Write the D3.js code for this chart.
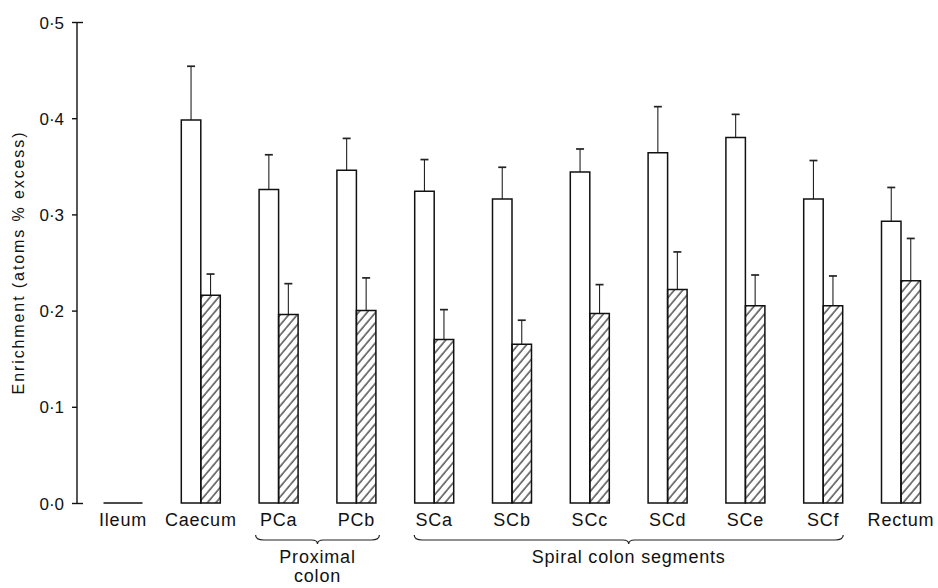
<!DOCTYPE html>
<html>
<head>
<meta charset="utf-8">
<script src="https://cdn.jsdelivr.net/npm/d3@7"></script>
<style>
  body { margin: 0; background: #fff; }
  text { font-family: "Liberation Sans", Arial, sans-serif; fill: #111; }
</style>
</head>
<body>
<div id="chart-area"></div>
<script>
// Data
const categories = ["Ileum", "Caecum", "PCa", "PCb", "SCa", "SCb", "SCc", "SCd", "SCe", "SCf", "Rectum"]
const openMean   = [0, 0.398, 0.326, 0.346, 0.324, 0.316, 0.344, 0.364, 0.380, 0.316, 0.293]
const openErr    = [0, 0.454, 0.362, 0.379, 0.357, 0.349, 0.368, 0.412, 0.404, 0.356, 0.328]
const hatchMean  = [0, 0.216, 0.196, 0.200, 0.170, 0.165, 0.197, 0.222, 0.205, 0.205, 0.231]
const hatchErr   = [0, 0.238, 0.228, 0.234, 0.201, 0.190, 0.227, 0.261, 0.237, 0.236, 0.275]
const yTicks = [0, 0.1, 0.2, 0.3, 0.4, 0.5]
const groups = [
    {label: ["Proximal", "colon"], from: "PCa", to: "PCb", pad: 23},
    {label: ["Spiral colon segments"], from: "SCa", to: "SCf", pad: 20}
]

const chartAreaWidth = 938
const chartAreaHeight = 588
const barW = 19.5

const svg = d3.select("#chart-area").append("svg")
    .attr("width", chartAreaWidth)
    .attr("height", chartAreaHeight);

// hatch pattern for the second series
const defs = svg.append("defs");
defs.append("pattern")
    .attr("id", "hatch")
    .attr("patternUnits", "userSpaceOnUse")
    .attr("width", 6.5)
    .attr("height", 6.5)
    .attr("patternTransform", "rotate(40)")
    .append("line")
    .attr("x1", 1).attr("y1", -1)
    .attr("x2", 1).attr("y2", 8)
    .attr("stroke", "#111")
    .attr("stroke-width", 1.1);

const x = d3.scalePoint()
    .domain(categories)
    .range([123, 901]);

const y = d3.scaleLinear()
    .domain([0, 0.5])
    .range([503, 22]);

const fmt = d => d3.format(".1f")(d).replace(".", "\u00b7");

// Y axis
const yAxis = svg.append("g")
    .attr("transform", "translate(77,0)")
    .call(d3.axisLeft(y).tickValues(yTicks).tickSize(5).tickFormat(fmt));
yAxis.select(".domain")
    .attr("d", `M0,${y(0.5)}V${y(0)}`)
    .attr("stroke", "#111")
    .attr("stroke-width", 1.4);
yAxis.selectAll(".tick line").attr("stroke", "#111").attr("stroke-width", 1.4);
yAxis.selectAll(".tick text")
    .attr("x", -13)
    .attr("dy", "0.36em")
    .style("font-size", "17px")
    .style("font-family", "'Liberation Sans', Arial, sans-serif")
    .attr("fill", "#111");

// short ticks pointing inward at the two ends
yAxis.selectAll(".tick")
    .filter(d => d === 0 || d === 0.5)
    .append("line")
    .attr("x1", 0).attr("x2", 6)
    .attr("stroke", "#111")
    .attr("stroke-width", 1.4);

// Y label
svg.append("text")
    .attr("transform", `translate(24, ${(y(0) + y(0.5)) / 2}) rotate(-90)`)
    .attr("text-anchor", "middle")
    .style("font-size", "16px")
    .style("letter-spacing", "1.9px")
    .text("Enrichment (atoms % excess)");

// bars
const rows = categories.map((c, i) => ({c, o: openMean[i], oe: openErr[i], h: hatchMean[i], he: hatchErr[i]}));

const bars = svg.append("g")
    .selectAll("g")
    .data(rows)
    .join("g");

// error bars first so bar tops sit over them
function errorBar(sel, xOff, val, err) {
    sel.filter(d => d[err] > 0)
        .append("line")
        .attr("x1", d => x(d.c) + xOff).attr("x2", d => x(d.c) + xOff)
        .attr("y1", d => y(d[val])).attr("y2", d => y(d[err]))
        .attr("stroke", "#222").attr("stroke-width", 1.1);
    sel.filter(d => d[err] > 0)
        .append("line")
        .attr("x1", d => x(d.c) + xOff - 4).attr("x2", d => x(d.c) + xOff + 4)
        .attr("y1", d => y(d[err])).attr("y2", d => y(d[err]))
        .attr("stroke", "#222").attr("stroke-width", 1.7);
}
errorBar(bars, -barW / 2, "o", "oe");
errorBar(bars, barW / 2, "h", "he");

// bars as paths so a zero value still shows as a line
const barPath = (x0, v) => `M${x0},${y(0)}V${y(v)}H${x0 + barW}V${y(0)}Z`;

bars.append("path")
    .attr("d", d => barPath(x(d.c) - barW, d.o))
    .attr("fill", "#fff")
    .attr("stroke", "#111")
    .attr("stroke-width", 1.5);

bars.append("path")
    .attr("d", d => barPath(x(d.c), d.h))
    .attr("fill", "url(#hatch)")
    .attr("stroke", "#111")
    .attr("stroke-width", 1.5);

// category labels
svg.append("g")
    .selectAll("text")
    .data(categories)
    .join("text")
    .attr("x", d => x(d))
    .attr("y", 526)
    .attr("text-anchor", "middle")
    .style("font-size", "18px")
    .style("letter-spacing", "0.8px")
    .text(d => d);

// group braces
groups.forEach(g => {
    const x1 = x(g.from) - g.pad;
    const x2 = x(g.to) + g.pad;
    const mid = (x1 + x2) / 2;
    const by = 540;
    svg.append("path")
        .attr("d", `M${x1},${by - 5} Q${x1},${by} ${x1 + 8},${by} L${mid - 6},${by} Q${mid},${by} ${mid},${by + 4} Q${mid},${by} ${mid + 6},${by} L${x2 - 8},${by} Q${x2},${by} ${x2},${by - 5}`)
        .attr("fill", "none")
        .attr("stroke", "#222")
        .attr("stroke-width", 1.2);
    g.label.forEach((t, i) => {
        svg.append("text")
            .attr("x", mid)
            .attr("y", 563 + i * 19)
            .attr("text-anchor", "middle")
            .style("font-size", "18px")
            .style("letter-spacing", "0.8px")
            .text(t);
    });
});
</script>
</body>
</html>
